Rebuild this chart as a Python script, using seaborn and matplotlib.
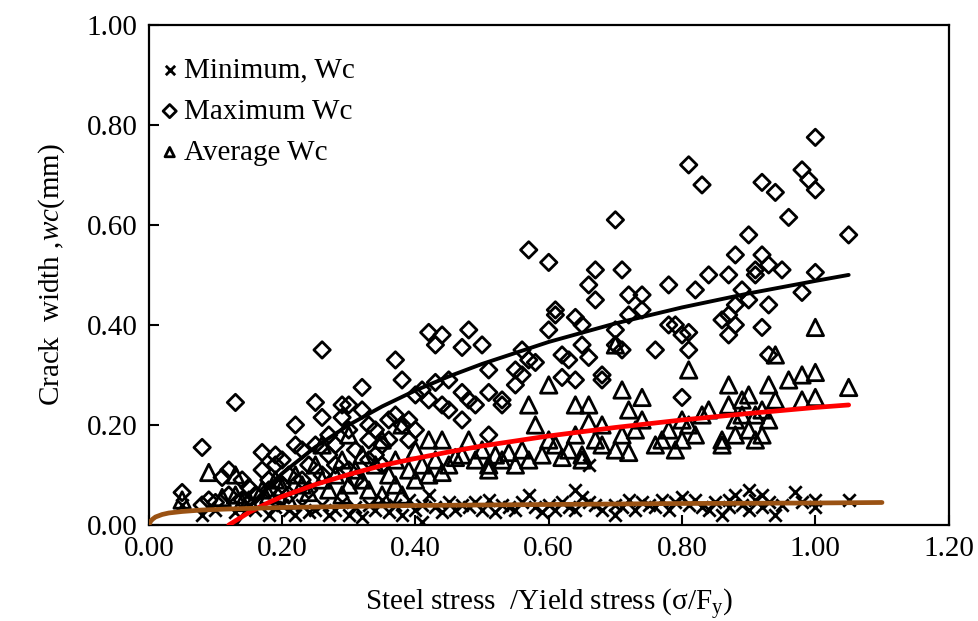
import matplotlib
matplotlib.use("Agg")
import matplotlib.pyplot as plt
import seaborn as sns
import numpy as np
import pandas as pd

sns.set_style("ticks")
plt.rcParams['font.family'] = ['Liberation Serif', 'DejaVu Serif']
plt.rcParams['mathtext.fontset'] = 'custom'
plt.rcParams['mathtext.rm'] = 'Liberation Serif'
plt.rcParams['mathtext.it'] = 'Liberation Serif:italic'
plt.rcParams['text.color'] = 'black'
plt.rcParams['axes.labelcolor'] = 'black'

# Maximum Wc (diamonds)
max_x = [0.05, 0.08, 0.08, 0.10, 0.11, 0.12, 0.13, 0.14, 0.15, 0.17, 0.17, 0.18, 0.19, 0.19,
         0.20, 0.21, 0.22, 0.22, 0.23, 0.24, 0.25, 0.25, 0.26, 0.26, 0.27, 0.27, 0.28, 0.29,
         0.29, 0.30, 0.30, 0.31, 0.32, 0.32, 0.33, 0.33, 0.34, 0.35, 0.36, 0.37, 0.37, 0.38,
         0.38, 0.39, 0.39, 0.40, 0.40, 0.41, 0.42, 0.42, 0.43, 0.43, 0.44, 0.44, 0.45, 0.45,
         0.47, 0.47, 0.47, 0.48, 0.48, 0.49, 0.50, 0.51, 0.51, 0.51, 0.53, 0.53, 0.55, 0.55,
         0.56, 0.56, 0.57, 0.57, 0.58, 0.60, 0.60, 0.61, 0.61, 0.62, 0.62, 0.63, 0.64, 0.64,
         0.65, 0.65, 0.66, 0.66, 0.67, 0.67, 0.68, 0.68, 0.70, 0.70, 0.70, 0.71, 0.71, 0.72,
         0.72, 0.74, 0.74, 0.76, 0.78, 0.78, 0.79, 0.80, 0.80, 0.81, 0.81, 0.81, 0.82, 0.83,
         0.84, 0.86, 0.87, 0.87, 0.87, 0.88, 0.88, 0.88, 0.89, 0.90, 0.90, 0.91, 0.91, 0.92,
         0.92, 0.92, 0.93, 0.93, 0.93, 0.94, 0.95, 0.96, 0.98, 0.98, 0.99, 1.00, 1.00, 1.00,
         1.05, 0.16, 0.18, 0.20, 0.21, 0.23, 0.24, 0.26, 0.28, 0.30, 0.31, 0.33, 0.35, 0.12,
         0.14, 0.09, 0.36, 0.34]
max_y = [0.065, 0.155, 0.040, 0.045, 0.095, 0.110, 0.245, 0.090, 0.075, 0.110, 0.145, 0.090,
         0.140, 0.120, 0.130, 0.100, 0.200, 0.160, 0.150, 0.120, 0.245, 0.160, 0.215, 0.350,
         0.180, 0.140, 0.160, 0.215, 0.240, 0.240, 0.190, 0.150, 0.275, 0.230, 0.200, 0.170,
         0.190, 0.160, 0.170, 0.330, 0.220, 0.290, 0.200, 0.210, 0.170, 0.260, 0.190, 0.270,
         0.385, 0.250, 0.360, 0.285, 0.380, 0.240, 0.290, 0.230, 0.355, 0.265, 0.210, 0.390,
         0.250, 0.240, 0.360, 0.310, 0.265, 0.180, 0.250, 0.240, 0.310, 0.280, 0.350, 0.300,
         0.550, 0.330, 0.325, 0.525, 0.390, 0.420, 0.430, 0.295, 0.340, 0.330, 0.415, 0.290,
         0.360, 0.400, 0.480, 0.335, 0.450, 0.510, 0.300, 0.290, 0.610, 0.390, 0.360, 0.510,
         0.350, 0.460, 0.420, 0.460, 0.430, 0.350, 0.480, 0.400, 0.400, 0.255, 0.380, 0.720,
         0.350, 0.385, 0.470, 0.680, 0.500, 0.410, 0.500, 0.420, 0.380, 0.540, 0.440, 0.400,
         0.470, 0.580, 0.450, 0.500, 0.510, 0.395, 0.540, 0.685, 0.340, 0.520, 0.440, 0.665,
         0.510, 0.615, 0.710, 0.465, 0.690, 0.670, 0.775, 0.505, 0.580, 0.060, 0.070, 0.080,
         0.060, 0.090, 0.070, 0.100, 0.120, 0.110, 0.090, 0.130, 0.120, 0.060, 0.050, 0.050,
         0.210, 0.140]

# Average Wc (triangles)
avg_x = [0.05, 0.09, 0.11, 0.13, 0.13, 0.14, 0.15, 0.17, 0.18, 0.19, 0.20, 0.21, 0.22, 0.23,
         0.24, 0.25, 0.26, 0.26, 0.27, 0.28, 0.29, 0.29, 0.30, 0.30, 0.31, 0.32, 0.32, 0.33,
         0.34, 0.35, 0.35, 0.36, 0.37, 0.37, 0.38, 0.38, 0.39, 0.40, 0.40, 0.41, 0.42, 0.42,
         0.43, 0.44, 0.44, 0.45, 0.46, 0.47, 0.48, 0.49, 0.50, 0.51, 0.51, 0.52, 0.53, 0.54,
         0.55, 0.56, 0.57, 0.57, 0.58, 0.59, 0.60, 0.60, 0.61, 0.62, 0.63, 0.64, 0.64, 0.65,
         0.65, 0.66, 0.66, 0.67, 0.68, 0.68, 0.70, 0.70, 0.71, 0.71, 0.72, 0.72, 0.73, 0.74,
         0.74, 0.76, 0.77, 0.78, 0.79, 0.80, 0.80, 0.81, 0.81, 0.82, 0.83, 0.84, 0.86, 0.86,
         0.87, 0.87, 0.88, 0.88, 0.89, 0.89, 0.90, 0.90, 0.91, 0.91, 0.92, 0.92, 0.93, 0.93,
         0.94, 0.94, 0.96, 0.98, 0.98, 1.00, 1.00, 1.00, 1.05]
avg_y = [0.050, 0.105, 0.055, 0.100, 0.060, 0.045, 0.050, 0.070, 0.060, 0.090, 0.075, 0.050,
         0.100, 0.080, 0.065, 0.120, 0.160, 0.090, 0.070, 0.100, 0.130, 0.060, 0.180, 0.080,
         0.110, 0.140, 0.090, 0.070, 0.120, 0.170, 0.060, 0.100, 0.130, 0.080, 0.200, 0.060,
         0.110, 0.150, 0.090, 0.120, 0.100, 0.170, 0.130, 0.170, 0.105, 0.120, 0.135, 0.140,
         0.170, 0.130, 0.150, 0.120, 0.110, 0.140, 0.130, 0.145, 0.120, 0.150, 0.240, 0.130,
         0.200, 0.140, 0.280, 0.170, 0.160, 0.135, 0.150, 0.240, 0.180, 0.130, 0.140, 0.205,
         0.240, 0.170, 0.200, 0.160, 0.150, 0.360, 0.270, 0.180, 0.230, 0.145, 0.190, 0.255,
         0.210, 0.160, 0.170, 0.190, 0.150, 0.210, 0.170, 0.310, 0.200, 0.180, 0.220, 0.230,
         0.170, 0.160, 0.240, 0.280, 0.210, 0.180, 0.250, 0.220, 0.190, 0.260, 0.170, 0.220,
         0.230, 0.180, 0.280, 0.210, 0.340, 0.250, 0.290, 0.250, 0.300, 0.395, 0.305, 0.255,
         0.275]

# Minimum Wc (crosses)
min_x = [0.05, 0.08, 0.10, 0.13, 0.15, 0.16, 0.18, 0.19, 0.20, 0.21, 0.22, 0.23, 0.24, 0.25,
         0.26, 0.27, 0.28, 0.29, 0.30, 0.31, 0.32, 0.33, 0.34, 0.35, 0.36, 0.37, 0.38, 0.39,
         0.40, 0.41, 0.41, 0.42, 0.43, 0.44, 0.45, 0.46, 0.47, 0.48, 0.49, 0.50, 0.51, 0.52,
         0.53, 0.54, 0.55, 0.56, 0.57, 0.58, 0.59, 0.60, 0.61, 0.62, 0.63, 0.64, 0.64, 0.65,
         0.66, 0.66, 0.67, 0.68, 0.70, 0.70, 0.71, 0.72, 0.73, 0.74, 0.75, 0.76, 0.77, 0.78,
         0.79, 0.80, 0.81, 0.82, 0.83, 0.84, 0.85, 0.86, 0.87, 0.87, 0.88, 0.89, 0.90, 0.90,
         0.91, 0.92, 0.92, 0.93, 0.94, 0.95, 0.97, 0.98, 1.00, 1.00, 1.05]
min_y = [0.040, 0.020, 0.030, 0.025, 0.040, 0.030, 0.020, 0.035, 0.040, 0.030, 0.020, 0.040,
         0.025, 0.030, 0.040, 0.020, 0.030, 0.045, 0.020, 0.035, 0.015, 0.040, 0.030, 0.050,
         0.025, 0.040, 0.020, 0.050, 0.030, 0.005, 0.040, 0.060, 0.035, 0.025, 0.045, 0.030,
         0.040, 0.035, 0.045, 0.030, 0.050, 0.025, 0.040, 0.035, 0.030, 0.045, 0.060, 0.035,
         0.025, 0.040, 0.030, 0.045, 0.035, 0.070, 0.030, 0.055, 0.045, 0.120, 0.040, 0.030,
         0.020, 0.040, 0.035, 0.050, 0.030, 0.045, 0.040, 0.035, 0.050, 0.030, 0.045, 0.055,
         0.040, 0.050, 0.035, 0.030, 0.045, 0.020, 0.050, 0.035, 0.060, 0.040, 0.070, 0.030,
         0.050, 0.060, 0.035, 0.045, 0.020, 0.040, 0.065, 0.045, 0.035, 0.050, 0.050]

# trend lines
blk_x = [0.13, 0.15, 0.18, 0.20, 0.25, 0.30, 0.35, 0.40, 0.45, 0.50, 0.60, 0.70, 0.80, 0.90, 1.00, 1.05]
blk_y = [0.000, 0.035, 0.078, 0.103, 0.156, 0.200, 0.237, 0.269, 0.297, 0.322, 0.366, 0.403,
         0.435, 0.463, 0.488, 0.500]
red_x = [0.12, 0.15, 0.18, 0.20, 0.25, 0.30, 0.35, 0.40, 0.45, 0.50, 0.60, 0.70, 0.80, 0.90, 1.00, 1.05]
red_y = [0.000, 0.025, 0.045, 0.057, 0.081, 0.101, 0.119, 0.133, 0.146, 0.158, 0.178, 0.195,
         0.210, 0.223, 0.235, 0.240]
brn_x = [0.0, 0.003, 0.006, 0.01, 0.02, 0.03, 0.05, 0.08, 0.12, 0.2, 0.3, 0.4, 0.6, 0.8, 1.0, 1.1]
brn_y = [0.000, 0.008, 0.012, 0.016, 0.021, 0.024, 0.027, 0.030, 0.032, 0.035, 0.037, 0.039,
         0.041, 0.043, 0.044, 0.045]

fig, ax = plt.subplots(figsize=(9.79, 6.21), dpi=100)
fig.subplots_adjust(left=0.152, right=0.969, top=0.960, bottom=0.1546)

sns.scatterplot(x=min_x, y=min_y, marker='x', s=80, color='black', linewidth=2.0,
                ax=ax, label='Minimum, Wc', zorder=3)
sns.scatterplot(x=max_x, y=max_y, marker='D', s=70, facecolor='none', edgecolor='black',
                linewidth=2.0, ax=ax, label='Maximum Wc', zorder=3)
sns.scatterplot(x=avg_x, y=avg_y, marker='^', s=140, facecolor='none', edgecolor='black',
                linewidth=2.0, ax=ax, label='Average Wc', zorder=3)

sns.lineplot(x=blk_x, y=blk_y, color='black', linewidth=2.8, sort=False, estimator=None, ax=ax, zorder=4)
sns.lineplot(x=red_x, y=red_y, color='#ff0000', linewidth=3.4, sort=False, estimator=None, ax=ax, zorder=4)
sns.lineplot(x=brn_x, y=brn_y, color='#9a5213', linewidth=3.4, sort=False, estimator=None, ax=ax, zorder=4)

ax.set_xlim(0, 1.2)
ax.set_ylim(0, 1.0)
ax.set_xticks(np.arange(0, 1.21, 0.2))
ax.set_yticks(np.arange(0, 1.01, 0.2))
ax.xaxis.set_major_formatter(matplotlib.ticker.FormatStrFormatter('%.2f'))
ax.yaxis.set_major_formatter(matplotlib.ticker.FormatStrFormatter('%.2f'))
ax.tick_params(direction='in', length=7, width=1.5, labelsize=21, colors='black',
               labelcolor='black', pad=8)
for sp in ax.spines.values():
    sp.set_visible(True)
    sp.set_linewidth(1.6)
    sp.set_color('black')

ax.set_xlabel(r'Steel stress  /Yield stress (σ/F$_\mathregular{y}$)', fontsize=21,
              labelpad=18, color='black')
ax.set_ylabel(r'Crack  width ,$\it{wc}$(mm)', fontsize=21, labelpad=14, color='black')

leg = ax.legend(loc='upper left', frameon=False, fontsize=21, handletextpad=0.0,
                handlelength=1.0, borderaxespad=0.2, labelspacing=0.5,
                bbox_to_anchor=(-0.014, 0.97))
for t in leg.get_texts():
    t.set_color('black')
for h in leg.legend_handles:
    h.set_sizes([45])

plt.savefig('out.png', dpi=100)
